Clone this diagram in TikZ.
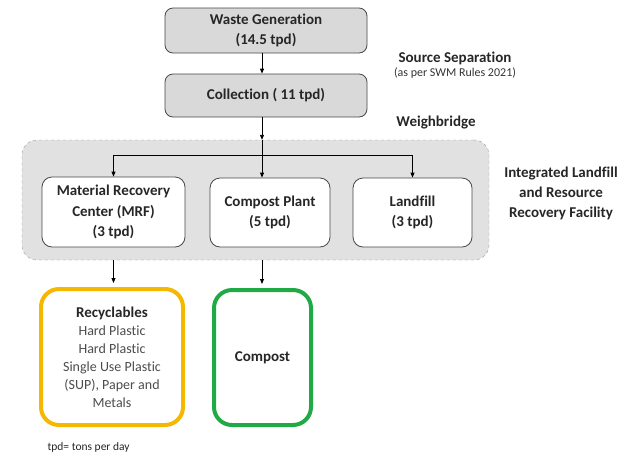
\documentclass[tikz,border=0pt]{standalone}
\usepackage{fontspec}
\setmainfont{Carlito}[Ligatures=NoCommon]
\usetikzlibrary{arrows.meta,positioning}
\definecolor{topgray}{HTML}{D9D9D9}
\definecolor{ilgray}{HTML}{E1E1E1}
\definecolor{recyyellow}{HTML}{F5B700}
\definecolor{compgreen}{HTML}{1FAA45}

\begin{document}
\begin{tikzpicture}[x=1pt, y=-1pt,
  box/.style={draw=black!72, line width=0.8pt, rounded corners=8pt, align=center, text=black!85,
              font=\bfseries\fontsize{15}{20.5}\selectfont, inner sep=2pt, fill=#1},
  box/.default=white,
  endbox/.style={draw=#1, line width=4pt, rounded corners=18pt, align=center, inner sep=2pt},
  lbl/.style={align=center, text=black!85, font=\bfseries\fontsize{15}{20}\selectfont},
  arr/.style={-{Triangle[length=5pt,width=4pt]}, line width=0.9pt}]
\useasboundingbox (0,0) rectangle (626,456);
% facility outline first, boxes on top
\node[draw=black!40, dashed, fill=ilgray, rounded corners=15pt, minimum width=467pt, minimum height=120pt] (ilrrf) at (255.5,200) {};
\node[box=topgray, minimum width=202pt, minimum height=45pt] (waste) at (266,30.5) {Waste Generation\\(14.5 tpd)};
\node[box=topgray, minimum width=202pt, minimum height=43pt] (coll) at (266,95.5) {Collection ( 11 tpd)};
\node[box, rounded corners=10pt, minimum width=143pt, minimum height=70pt] (mrf) at (113.5,212) {Material Recovery\\Center (MRF)\\(3 tpd)};
\node[box, rounded corners=10pt, minimum width=120pt, minimum height=69pt] (comp) at (270,212.5) {Compost Plant\\(5 tpd)};
\node[box, rounded corners=10pt, minimum width=119pt, minimum height=69pt] (land) at (412.5,212.5) {Landfill\\(3 tpd)};
\node[endbox=recyyellow, minimum width=142pt, minimum height=136pt, text=black!70,
      font=\fontsize{14}{18}\selectfont] (recy) at (112,357)
  {{\bfseries\fontsize{15}{18}\selectfont\color{black!85}Recyclables}\\Hard Plastic\\Hard Plastic\\Single Use Plastic\\(SUP), Paper and\\Metals};
\node[endbox=compgreen, minimum width=97pt, minimum height=135pt, text=black!85,
      font=\bfseries\fontsize{15}{18}\selectfont] (compo) at (262.5,357.5) {Compost};
% side labels
\node[lbl] (srcsep) at (455,58) {Source Separation};
\node[text=black!80, font=\fontsize{12}{14}\selectfont] (swm) at (455,73) {(as per SWM Rules 2021)};
\node[lbl] (wb) at (436,123) {Weighbridge};
\node[lbl] (ilbl) at (561,193) {Integrated Landfill\\and Resource\\Recovery Facility};
\node[anchor=west, text=black!85, font=\fontsize{11.5}{13}\selectfont] (note) at (44,447) {tpd= tons per day};
\coordinate (trunk) at (262,0);
\coordinate (split) at (262,155);
\draw[arr] (waste.south -| trunk) -- (coll.north -| trunk);
\draw[arr] (coll.south -| trunk) -- (ilrrf.north -| trunk);
\draw[line width=0.9pt] (ilrrf.north -| trunk) -- (split);
\draw[arr] (split) -| (mrf.north);
\draw[arr] (split) -- (split |- comp.north);
\draw[arr] (split) -| (land.north);
\draw[arr, shorten >=4pt] (ilrrf.south -| mrf) -- (recy.north -| mrf);
\draw[arr, shorten >=4pt] (ilrrf.south -| split) -- (compo.north -| split);
\end{tikzpicture}
\end{document}
